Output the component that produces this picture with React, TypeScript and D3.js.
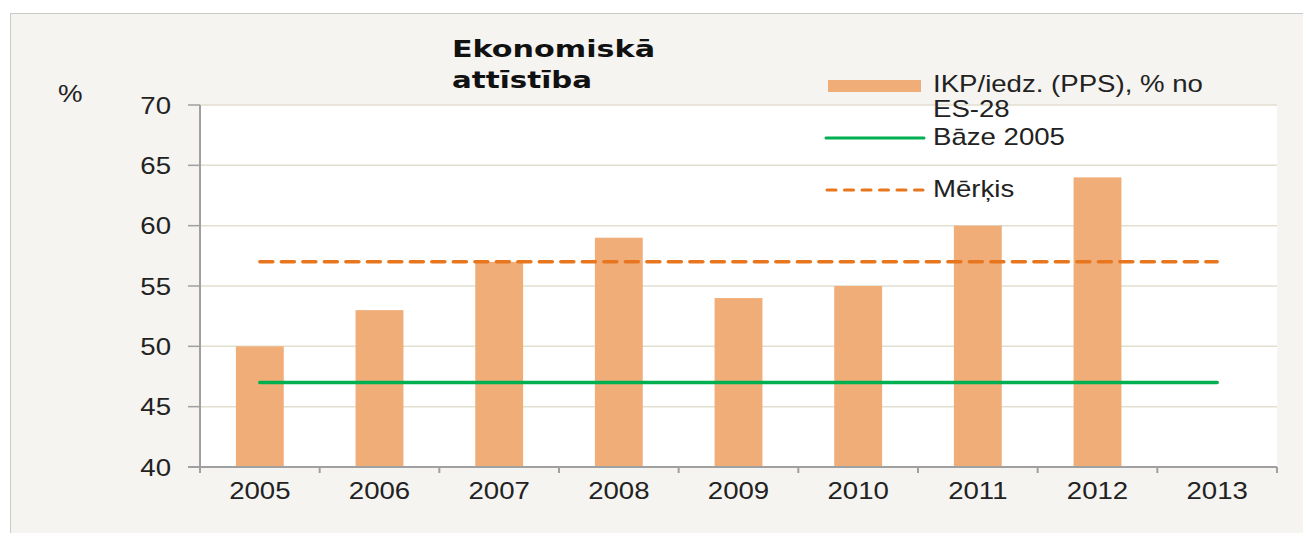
import React from 'react'
import * as d3 from 'd3'

// data
const years = ['2005', '2006', '2007', '2008', '2009', '2010', '2011', '2012', '2013']
const gdpValues = [50, 53, 57, 59, 54, 55, 60, 64, null]
const baseValue = 47
const targetValue = 57
const yTicks = [40, 45, 50, 55, 60, 65, 70]
const legendLabels = ['IKP/iedz. (PPS), % no', 'ES-28', 'Bāze 2005', 'Mērķis']
const titleLines = ['Ekonomiskā', 'attīstība']

const W = 1303
const H = 533
const left = 200, right = 1277, top = 105, bottom = 467

const barColour = '#f0ad78'
const greenColour = '#00b050'
const orangeColour = '#e8761e'
const font = '"Liberation Sans", Arial, sans-serif'

function T(props: { x: number, y: number, anchor?: string, size?: number, children: any }) {
  return (
    <text
      transform={'translate(' + props.x + ',' + props.y + ') scale(1.2,1)'}
      textAnchor={props.anchor || 'start'}
      fontFamily={font}
      fontSize={props.size || 23}
      fill="#222"
    >
      {props.children}
    </text>
  )
}

export default function App() {
  const x = d3.scaleBand().domain(years).range([left, right]).padding(0)
  const y = d3.scaleLinear().domain([40, 70]).range([bottom, top])
  const bw = x.bandwidth() * 0.4
  const cx = (d: string) => (x(d) as number) + x.bandwidth() / 2

  const firstX = cx(years[0])
  const lastX = cx(years[years.length - 1])
  const lineGen = d3.line<[number, number]>()

  const boundaries = years.map(d => x(d) as number).concat([right])

  return (
    <svg width={W} height={H} style={{ position: 'absolute', left: 0, top: 0 }}>
      <rect x={0} y={0} width={W} height={H} fill="#fff" />
      <rect x={10.5} y={13.5} width={W} height={H} fill="#f5f4f0" stroke="#9a9a9a" strokeDasharray="1 1" />

      <rect x={left} y={top} width={right - left} height={bottom - top} fill="#fff" />

      {yTicks.filter(t => t > 40).map(t => (
        <line key={t} x1={left} x2={right} y1={y(t)} y2={y(t)} stroke="#e2dfcf" strokeWidth={1.5} />
      ))}

      {years.map((d, i) => gdpValues[i] == null ? null : (
        <rect
          key={d}
          x={cx(d) - bw / 2}
          y={y(gdpValues[i] as number)}
          width={bw}
          height={bottom - y(gdpValues[i] as number)}
          fill={barColour}
        />
      ))}

      <path
        d={lineGen([[firstX, y(targetValue)], [lastX, y(targetValue)]]) || ''}
        stroke={orangeColour}
        strokeWidth={3.5}
        strokeDasharray="13 8.5"
        strokeLinecap="round"
        fill="none"
      />
      <path
        d={lineGen([[firstX, y(baseValue)], [lastX, y(baseValue)]]) || ''}
        stroke={greenColour}
        strokeWidth={3.5}
        strokeLinecap="round"
        fill="none"
      />

      {/* axes */}
      <line x1={left} x2={left} y1={top} y2={bottom + 6} stroke="#a0a0a0" strokeWidth={2} />
      <line x1={left - 12} x2={right} y1={bottom} y2={bottom} stroke="#a0a0a0" strokeWidth={2} />
      {yTicks.map(t => (
        <g key={t}>
          <line x1={left - 12} x2={left} y1={y(t)} y2={y(t)} stroke="#a0a0a0" strokeWidth={1.5} />
          <T x={171} y={y(t) + 8.5} anchor="end">{t}</T>
        </g>
      ))}
      {boundaries.map((b, i) => (
        <line key={i} x1={b} x2={b} y1={bottom} y2={bottom + 6} stroke="#a0a0a0" strokeWidth={2} />
      ))}
      {years.map(d => (
        <T key={d} x={cx(d)} y={499} anchor="middle">{d}</T>
      ))}

      <T x={58} y={102}>%</T>

      {/* title */}
      <text x={452} y={57} fontFamily='"DejaVu Sans", Verdana, sans-serif' fontWeight="bold" fontSize={23.5}
        textLength={203} lengthAdjust="spacingAndGlyphs" fill="#111">{titleLines[0]}</text>
      <text x={452} y={88} fontFamily='"DejaVu Sans", Verdana, sans-serif' fontWeight="bold" fontSize={23.5}
        textLength={140} lengthAdjust="spacingAndGlyphs" fill="#111">{titleLines[1]}</text>

      {/* legend */}
      <rect x={828} y={80} width={93} height={12} fill={barColour} />
      <T x={933} y={92} size={23}>{legendLabels[0]}</T>
      <T x={933} y={117} size={23}>{legendLabels[1]}</T>
      <line x1={826} x2={924} y1={138} y2={138} stroke={greenColour} strokeWidth={3} strokeLinecap="round" />
      <T x={933} y={145} size={23}>{legendLabels[2]}</T>
      <line x1={827} x2={923} y1={190} y2={190} stroke={orangeColour} strokeWidth={3}
        strokeDasharray="9 8.5" strokeLinecap="round" />
      <T x={933} y={197} size={23}>{legendLabels[3]}</T>
    </svg>
  )
}
